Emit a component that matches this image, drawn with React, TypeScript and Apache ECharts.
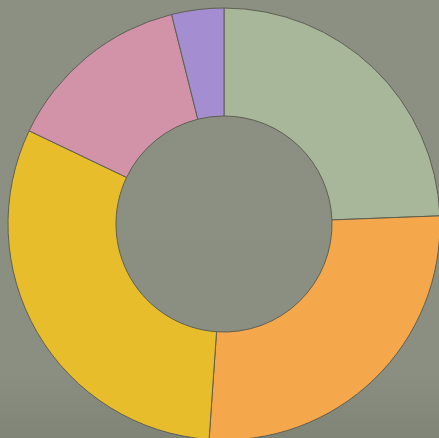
import React, { useEffect, useRef } from "react";
import * as echarts from "echarts";

const categories = ["A", "B", "C", "D", "E"];
const values = [24.4, 26.7, 31.0, 14.0, 3.9];
const colors = ["#a8b699", "#f5a74b", "#e8bd2c", "#d293a9", "#a48dd0"];

export default function App() {
  const ref = useRef<HTMLDivElement>(null);
  useEffect(() => {
    const chart = echarts.init(ref.current!, null, { renderer: "svg" });
    chart.setOption({
      animation: false,
      backgroundColor: "transparent",
      series: [
        {
          type: "pie",
          startAngle: 90,
          clockwise: true,
          center: [224, 224],
          radius: [108, 216],
          label: { show: false },
          labelLine: { show: false },
          itemStyle: { borderColor: "#5e5f52", borderWidth: 1 },
          emphasis: { disabled: true },
          data: categories.map((c, i) => ({
            name: c,
            value: values[i],
            itemStyle: { color: colors[i] },
          })),
        },
      ],
    });
    return () => chart.dispose();
  }, []);
  return (
    <div
      ref={ref}
      style={{
        position: "fixed",
        left: 0,
        top: 0,
        width: 439,
        height: 438,
        background: "linear-gradient(180deg, #8b9083 0%, #8a8f82 85%, #7f8477 100%)",
      }}
    />
  );
}
